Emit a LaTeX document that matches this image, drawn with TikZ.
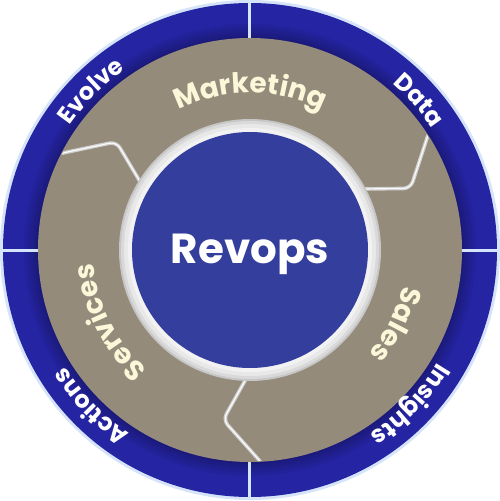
\documentclass[tikz,border=0pt]{standalone}
\usepackage{fontspec}
\setmainfont{Poppins}
\usetikzlibrary{decorations.text}
\definecolor{ringblue}{HTML}{2524A3}
\definecolor{ringedge}{HTML}{D6E4FA}
\definecolor{mytan}{HTML}{958B7B}
\definecolor{coreblue}{HTML}{343E9C}
\definecolor{cream}{HTML}{FDF7DA}
\definecolor{divider}{HTML}{D0D0D0}
\newcommand\arclabel[5]{%
  \path[decorate,decoration={text along path,text align=center,
    text={|\fontsize{#3}{#3}\selectfont\bfseries\color{#4}|#5}}]
    (#2+80:#1) arc[start angle=#2+80,end angle=#2-80,radius=#1];}
\tikzset{
  dividerline/.style={draw=divider,line width=3.6pt,rounded corners=7pt,line cap=round},
  dividerhl/.style={draw=white!90!divider,line width=1.2pt,rounded corners=7pt}
}
\begin{document}
\begin{tikzpicture}[x=1pt,y=1pt]
\useasboundingbox (-250,-251) rectangle (250,250);
% outer ring
\fill[ringedge] (0,0) circle (250);
\fill[ringblue] (0,0) circle (247);
\foreach \r in {214,217,...,226} \fill[black,opacity=0.05] (0,0) circle (\r);
\draw[ringedge,line width=3pt] (0,-250) -- (0,250) (-250,0) -- (250,0);
% tan ring
\fill[mytan] (0,0) circle (212);
\begin{scope}
\clip (0,0) circle (211);
\foreach \a in {0,-120,-240}{
  \draw[dividerline] (153.3+\a:214) -- (141+\a:172) -- (148.7+\a:127);
  \draw[dividerhl] (153.3+\a:214) -- (141+\a:172) -- (148.7+\a:127);
}
\end{scope}
% grey ring
\fill[gray!45] (0,0) circle (131);
\fill[gray!30] (0,0) circle (129);
\fill[gray!18] (0,0) circle (126);
\fill[gray!10] (0,0) circle (122);
\fill[coreblue] (0,0) circle (118);
\node[text=white,font=\fontsize{42}{42}\selectfont\bfseries] (core) at (0,-4) {Revops};
% inner labels
\arclabel{157}{90}{28}{cream}{Marketing}
\arclabel{157}{-27}{28}{cream}{Sales}
\arclabel{157}{207}{28}{cream}{Services}
% outer labels
\arclabel{219}{135}{24}{white}{Evolve}
\arclabel{219}{41.5}{24}{white}{Data}
\arclabel{219}{-44}{24}{white}{Insights}
\arclabel{219}{-135.5}{24}{white}{Actions}
\end{tikzpicture}
\end{document}
